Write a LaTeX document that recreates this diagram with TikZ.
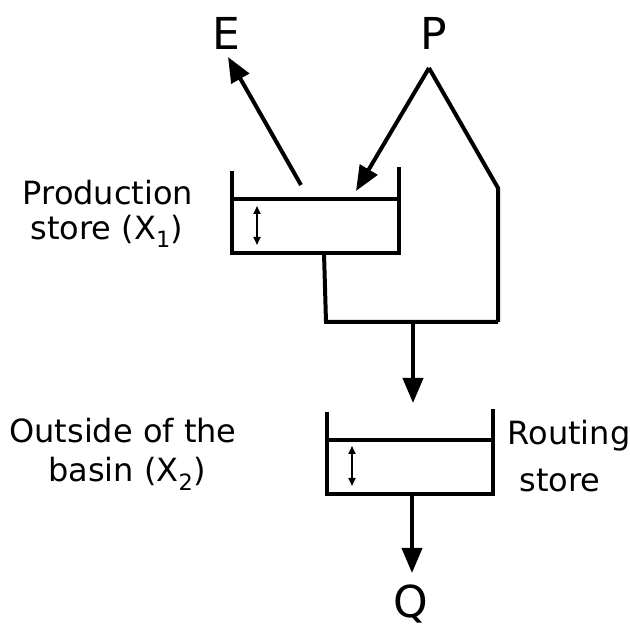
\documentclass[tikz,border=0pt]{standalone}
\usepackage{fontspec}
\setmainfont{DejaVu Sans}
\usetikzlibrary{arrows.meta}
\begin{document}
\begin{tikzpicture}[x=1pt,y=-1pt,
  wall/.style={line width=4pt, line cap=butt, line join=miter},
  flow/.style={line width=4pt, -{Triangle[length=25pt,width=20pt]}},
  pipe/.style={line width=4pt, line join=miter},
  level/.style={line width=1.8pt, {Triangle[length=8pt,width=7pt]}-{Triangle[length=8pt,width=7pt]}},
  big/.style={font=\fontsize{44}{50}\selectfont, inner sep=0pt, anchor=base},
  lbl/.style={font=\fontsize{32}{38}\selectfont, inner sep=0pt, anchor=base}]
\useasboundingbox (0,0) rectangle (630,628);
% labels
\node[big] (E) at (226,50) {E};
\node[big] (P) at (434,50) {P};
\node[big] (Q) at (411,617) {Q};
\node[lbl] (pl1) at (108,205) {Production};
\node[lbl] (pl2) at (107,240) {store (X\textsubscript{1})};
\node[lbl] (ol1) at (123,443) {Outside of the};
\node[lbl] (ol2) at (127,482) {basin (X\textsubscript{2})};
\node[lbl] (rl1) at (569,445) {Routing};
\node[lbl] (rl2) at (560,492) {store};
% production store
\coordinate (pslt) at (232,171);
\coordinate (pslb) at (232,253);
\coordinate (psrb) at (399,253);
\coordinate (psrt) at (399,167);
\draw[wall] (pslt) -- (pslb) -- (psrb) -- (psrt);
\coordinate (pswl) at (232,199);
\coordinate (pswr) at (399,199);
\draw[wall] (pswl) -- (pswr);
\coordinate (psa) at (257,206);
\coordinate (psb) at (257,245);
\draw[level] (psa) -- (psb);
% evaporation
\coordinate (es) at (301,185);
\coordinate (et) at (228,57);
\draw[flow] (es) -- (et);
% precipitation
\coordinate (apex) at (429,68);
\coordinate (pt) at (356,191);
\coordinate (pr) at (498,188);
\coordinate (jr) at (498,322);
\draw[flow] (apex) -- (pt);
\draw[pipe] (apex) -- (pr) -- (jr);
% outflow of production store
\coordinate (po) at (324,253);
\coordinate (jl) at (326,322);
\draw[pipe] (po) -- (jl) -- (jr);
\coordinate (js) at (413,322);
\coordinate (jt) at (413,403);
\draw[flow] (js) -- (jt);
% routing store
\coordinate (rslt) at (327,412);
\coordinate (rslb) at (327,494);
\coordinate (rsrb) at (493,494);
\coordinate (rsrt) at (493,409);
\draw[wall] (rslt) -- (rslb) -- (rsrb) -- (rsrt);
\coordinate (rswl) at (327,440);
\coordinate (rswr) at (493,440);
\draw[wall] (rswl) -- (rswr);
\coordinate (rsa) at (352,446);
\coordinate (rsb) at (352,486);
\draw[level] (rsa) -- (rsb);
\coordinate (ro) at (412,494);
\coordinate (rt) at (412,573);
\draw[flow] (ro) -- (rt);
\end{tikzpicture}
\end{document}
